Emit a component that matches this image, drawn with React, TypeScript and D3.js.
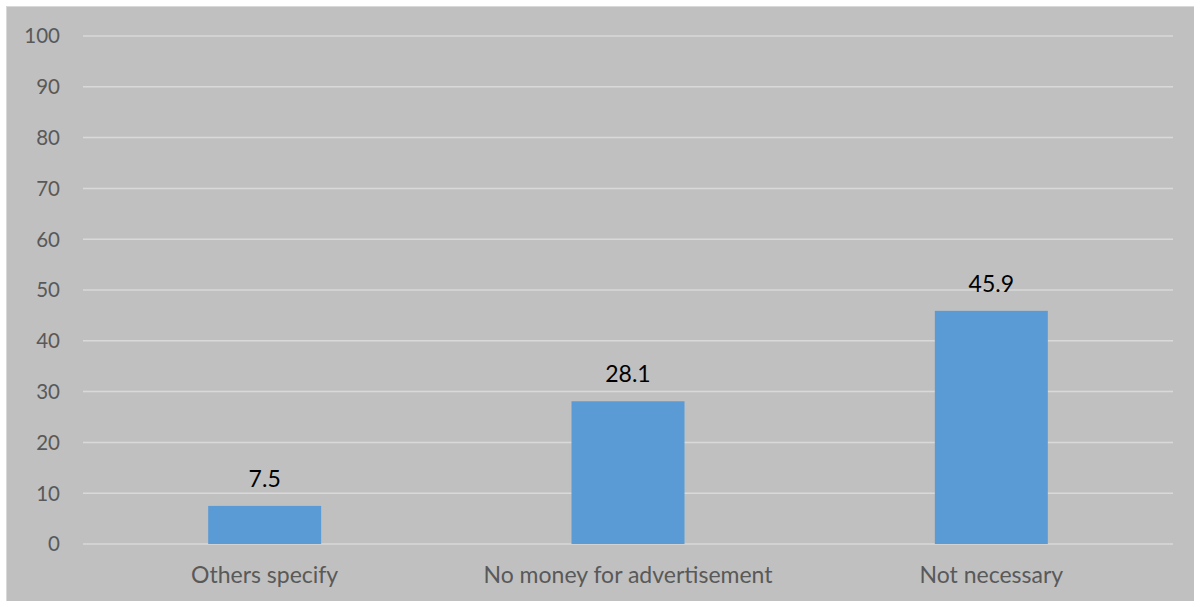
import React from "react";
import * as d3 from "d3";

const categories = ["Others specify", "No money for advertisement", "Not necessary"];
const values = [7.5, 28.1, 45.9];
const yTicks = [0, 10, 20, 30, 40, 50, 60, 70, 80, 90, 100];

const W = 1194;
const H = 601;
const margin = { left: 83, right: 21, top: 36, bottom: 57 };

export default function App() {
  const x = d3
    .scaleBand<string>()
    .domain(categories)
    .range([margin.left, W - margin.right])
    .padding(0);
  const y = d3
    .scaleLinear()
    .domain([0, 100])
    .range([H - margin.bottom, margin.top]);
  const barW = x.bandwidth() * 0.311;
  const font = "Lato, 'Open Sans', sans-serif";

  return (
    <svg
      width={W}
      height={H}
      style={{ position: "absolute", left: 0, top: 0, display: "block" }}
    >
      <rect x={0} y={0} width={W} height={H} fill="#ffffff" />
      <rect x={6} y={6} width={W - 6} height={H - 6} fill="#d9d9d9" />
      <rect x={7} y={7} width={W - 7} height={H - 7} fill="#c0c0c0" />
      {yTicks.map((t) => (
        <g key={t}>
          <line
            x1={margin.left}
            x2={W - margin.right}
            y1={y(t)}
            y2={y(t)}
            stroke="#d9d9d9"
            strokeWidth={1.5}
          />
          <text
            x={60}
            y={y(t)}
            dy="0.36em"
            textAnchor="end"
            fontFamily={font}
            fontSize={20.5}
            fill="#595959"
          >
            {t}
          </text>
        </g>
      ))}
      {categories.map((c, i) => {
        const cx = (x(c) as number) + x.bandwidth() / 2;
        return (
          <g key={c}>
            <rect
              x={cx - barW / 2}
              y={y(values[i])}
              width={barW}
              height={y(0) - y(values[i])}
              fill="#5b9bd5"
            />
            <text
              x={cx}
              y={y(values[i]) - 19}
              textAnchor="middle"
              fontFamily={font}
              fontSize={23}
              fill="#000000"
            >
              {values[i]}
            </text>
            <text
              x={cx}
              y={575}
              dy="0.35em"
              textAnchor="middle"
              fontFamily={font}
              fontSize={23}
              fill="#595959"
            >
              {c}
            </text>
          </g>
        );
      })}
    </svg>
  );
}
